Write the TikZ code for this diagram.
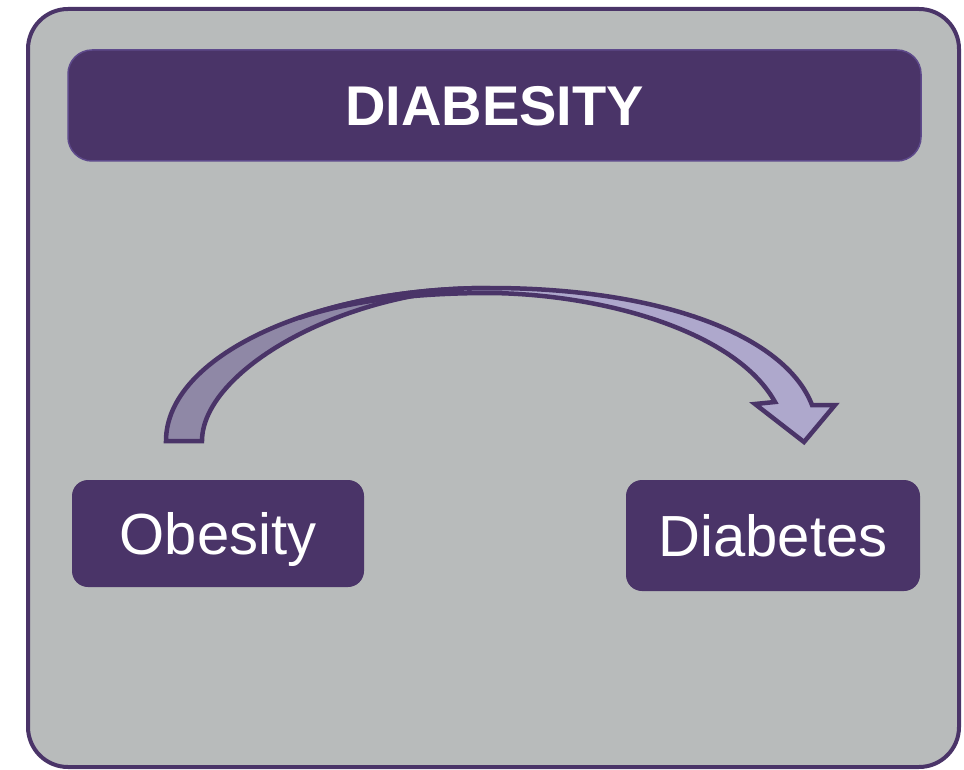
\documentclass[tikz,border=0pt]{standalone}
\usepackage{fontspec}
\setmainfont{Liberation Sans}
\definecolor{dpurple}{HTML}{4A3468}
\definecolor{tborder}{HTML}{5E4A8B}
\definecolor{bggray}{HTML}{B8BBBB}
\definecolor{darkfill}{HTML}{8F88A6}
\definecolor{lightfill}{HTML}{AEA8CC}
\tikzset{
  panel/.style={line width=4pt, draw=dpurple, fill=bggray, rounded corners=40pt},
  titlebox/.style={fill=dpurple, draw=tborder, line width=1.5pt, rounded corners=24pt,
    minimum width=853pt, minimum height=111pt, inner sep=0pt, text=white,
    font=\fontsize{56}{60}\selectfont\bfseries, text height=40pt, text depth=0pt},
  termbox/.style={fill=dpurple, draw=none, rounded corners=16pt, inner sep=0pt, text=white,
    font=\fontsize{58}{62}\selectfont, text height=41.5pt, text depth=0pt},
  arrowpart/.style={draw=dpurple, line width=4.5pt, line join=miter}
}
\begin{document}
\begin{tikzpicture}[x=1pt,y=-1pt]
\useasboundingbox (0,0) rectangle (964,770);
\fill[white] (0,0) rectangle (964,770);
\draw[panel] (28,9) rectangle (959,767);
\node[titlebox] (title) at (494.5,105.5) {DIABESITY};
\node[termbox, minimum width=292pt, minimum height=107pt] (obesity) at (218,533.5) {Obesity};
\node[termbox, minimum width=294pt, minimum height=111pt] (diabetes) at (773,535.5) {Diabetes};
% curved arrow: back (dark) part
\draw[arrowpart, fill=darkfill] (166,441) .. controls (166,357) and (312,288) .. (490,288)
   .. controls (340,290) and (202,372) .. (202,441) -- cycle;
% curved arrow: front (light) part with head
\draw[arrowpart, fill=lightfill] (299,318) .. controls (352.7,299) and (418.8,288) .. (490,288)
   .. controls (660,288) and (785,335) .. (812,405)
   -- (835,405) -- (804,442) -- (755,404) -- (775,402)
   .. controls (735,330) and (600,294) .. (490,293)
   .. controls (400,293) and (340,304) .. (299,318) -- cycle;
\end{tikzpicture}
\end{document}
